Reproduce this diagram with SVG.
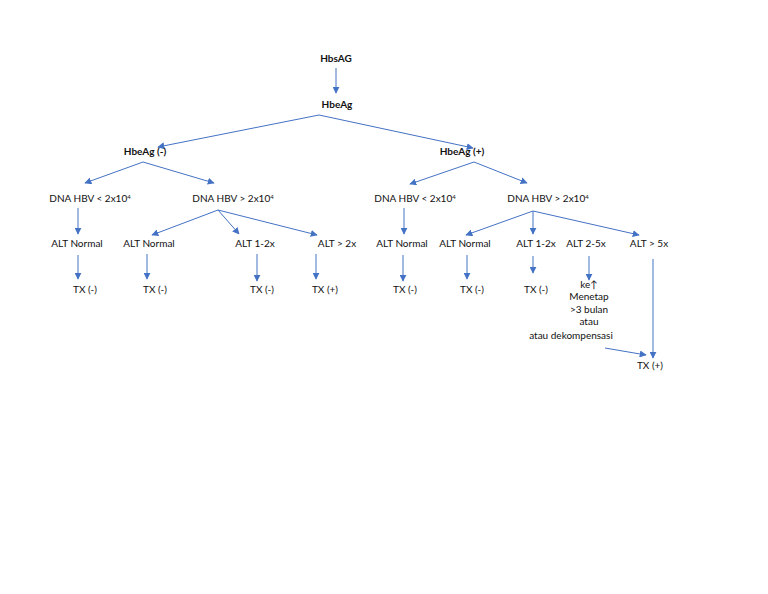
<svg xmlns="http://www.w3.org/2000/svg" width="768" height="594" viewBox="0 0 768 594">
<style>
text{font-family:Lato,"Open Sans","Liberation Sans",sans-serif;font-size:10px;fill:#111;text-anchor:middle}
.b{font-weight:bold}
.c line{stroke:#4472C4;stroke-width:1;marker-end:url(#a)}
.s{font-size:6px}
</style>
<defs><marker id="a" viewBox="0 0 10 10" refX="9" refY="5" markerWidth="7" markerHeight="7" orient="auto" markerUnits="userSpaceOnUse"><path d="M0,0L10,5L0,10z" fill="#4472C4"/></marker></defs>
<rect width="768" height="594" fill="#fff"/>
<g class="c">
<line x1="336" y1="68" x2="336" y2="93"/>
<line x1="319" y1="115" x2="158" y2="147"/>
<line x1="319" y1="115" x2="473" y2="148"/>
<line x1="143" y1="162" x2="85" y2="183"/>
<line x1="143" y1="162" x2="214" y2="183"/>
<line x1="78" y1="208" x2="78" y2="234"/>
<line x1="218" y1="210" x2="152" y2="235"/>
<line x1="218" y1="210" x2="239" y2="234"/>
<line x1="218" y1="210" x2="317" y2="235"/>
<line x1="78" y1="255" x2="78" y2="279"/>
<line x1="147" y1="254" x2="147" y2="279"/>
<line x1="257" y1="254" x2="257" y2="281"/>
<line x1="316" y1="254" x2="316" y2="279"/>
<line x1="474" y1="162" x2="410" y2="184"/>
<line x1="474" y1="162" x2="527" y2="183"/>
<line x1="404" y1="208" x2="404" y2="234"/>
<line x1="533" y1="211" x2="466" y2="235"/>
<line x1="533" y1="211" x2="533" y2="234"/>
<line x1="533" y1="211" x2="639" y2="235"/>
<line x1="403" y1="255" x2="403" y2="281"/>
<line x1="467" y1="255" x2="467" y2="279"/>
<line x1="533" y1="256" x2="533" y2="273"/>
<line x1="589" y1="256" x2="589" y2="280"/>
<line x1="653" y1="259" x2="653" y2="358"/>
<line x1="605" y1="348" x2="646" y2="355"/>
</g>
<g id="n1"><text class="b" x="336" y="62">HbsAG</text></g>
<g id="n2"><text class="b" x="337" y="108">HbeAg</text></g>
<g id="n3"><text class="b" x="145" y="155">HbeAg (-)</text></g>
<g id="n4"><text class="b" x="462" y="155">HbeAg (+)</text></g>
<g id="n5"><text x="90" y="202">DNA HBV &lt; 2x10<tspan class="s" dy="-3">4</tspan></text></g>
<g id="n6"><text x="233" y="202">DNA HBV &gt; 2x10<tspan class="s" dy="-3">4</tspan></text></g>
<g id="n7"><text x="415" y="202">DNA HBV &lt; 2x10<tspan class="s" dy="-3">4</tspan></text></g>
<g id="n8"><text x="548" y="202">DNA HBV &gt; 2x10<tspan class="s" dy="-3">4</tspan></text></g>
<g id="n9"><text x="77" y="247">ALT Normal</text></g>
<g id="n10"><text x="149" y="247">ALT Normal</text></g>
<g id="n11"><text x="255" y="247">ALT 1-2x</text></g>
<g id="n12"><text x="337" y="247">ALT &gt; 2x</text></g>
<g id="n13"><text x="402" y="247">ALT Normal</text></g>
<g id="n14"><text x="465" y="247">ALT Normal</text></g>
<g id="n15"><text x="536" y="247">ALT 1-2x</text></g>
<g id="n16"><text x="586" y="247">ALT 2-5x</text></g>
<g id="n17"><text x="649" y="247">ALT &gt; 5x</text></g>
<g id="n18"><text x="85" y="293">TX (-)</text></g>
<g id="n19"><text x="155" y="293">TX (-)</text></g>
<g id="n20"><text x="262" y="293">TX (-)</text></g>
<g id="n21"><text x="325" y="293">TX (+)</text></g>
<g id="n22"><text x="405" y="293">TX (-)</text></g>
<g id="n23"><text x="472" y="293">TX (-)</text></g>
<g id="n24"><text x="536" y="293">TX (-)</text></g>
<g id="n25"><text x="589" y="288">ke↑</text><text x="589" y="300">Menetap</text><text x="589" y="313">&gt;3 bulan</text><text x="589" y="325">atau</text><text x="571" y="339">atau dekompensasi</text></g>
<g id="n26"><text x="650" y="369">TX (+)</text></g>
</svg>
